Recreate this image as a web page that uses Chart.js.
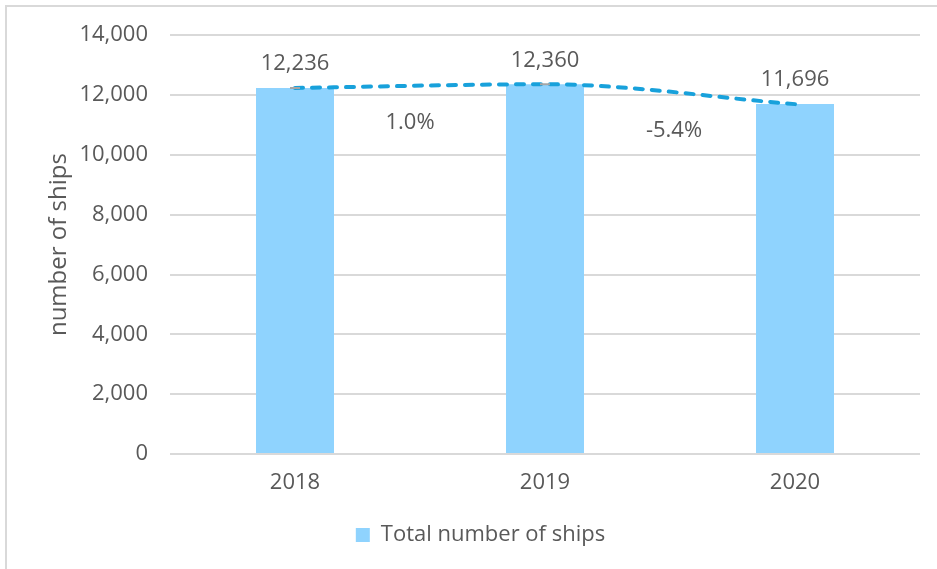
<!DOCTYPE html>
<html>
<head>
<meta charset="utf-8">
<script src="https://cdn.jsdelivr.net/npm/chart.js@4/dist/chart.umd.min.js"></script>
<style>
  html, body { margin: 0; padding: 0; background: #ffffff; }
  #wrap { position: relative; width: 937px; height: 569px; overflow: hidden; }
  #frame { position: absolute; left: 5px; top: 5px; right: -4px; bottom: -4px;
           border-left: 2px solid #d9d9d9; border-top: 2px solid #d9d9d9; }
  #c { position: absolute; left: 0; top: 0; }
</style>
</head>
<body>
<div id="wrap">
  <div id="frame"></div>
  <canvas id="c" width="937" height="569"></canvas>
</div>
<script>
// Fleet size by year
const years = ['2018', '2019', '2020'];
const ships = [12236, 12360, 11696];
// Year-on-year change between consecutive years
const changeLabels = ['1.0%', '-5.4%'];
// Value axis ticks
const yTicks = [0, 2000, 4000, 6000, 8000, 10000, 12000, 14000];

const FONT = "'Open Sans', 'DejaVu Sans', sans-serif";
const TEXT = '#595959';
const fmt = v => v.toLocaleString('en-US');

// Value labels above each year and change labels between years
const labelPlugin = {
  id: 'valueLabels',
  afterDatasetsDraw(chart) {
    const { ctx } = chart;
    const xs = chart.scales.x, ys = chart.scales.y;
    ctx.save();
    ctx.fillStyle = TEXT;
    ctx.font = '22px ' + FONT;
    ctx.textAlign = 'center';
    ctx.textBaseline = 'middle';
    ships.forEach((v, i) => {
      ctx.fillText(fmt(v), xs.getPixelForValue(i), ys.getPixelForValue(v) - 24);
    });
    changeLabels.forEach((t, i) => {
      const x = (xs.getPixelForValue(i) + xs.getPixelForValue(i + 1)) / 2 + (i === 0 ? -10 : 4);
      const y = ys.getPixelForValue((ships[i] + ships[i + 1]) / 2) + 37;
      ctx.fillText(t, x, y);
    });
    ctx.restore();
  }
};

new Chart(document.getElementById('c'), {
  data: {
    labels: years,
    datasets: [
      {
        type: 'line',
        label: 'trend',
        data: ships,
        order: 0,
        borderColor: '#18a1db',
        borderWidth: 4,
        borderDash: [8, 9],
        borderCapStyle: 'round',
        cubicInterpolationMode: 'monotone',
        fill: false,
        pointStyle: 'line',
        pointRadius: [5, 5, 0],
        pointBorderColor: '#a6a6a6',
        pointBorderWidth: 2,
        pointHoverRadius: 0
      },
      {
        type: 'bar',
        label: 'Total number of ships',
        data: ships,
        order: 1,
        backgroundColor: '#8fd3fe',
        borderWidth: 0,
        categoryPercentage: 1,
        barPercentage: 0.312
      }
    ]
  },
  options: {
    responsive: false,
    animation: false,
    events: [],
    layout: { padding: { left: 41, right: 17, top: 34, bottom: 13 } },
    plugins: {
      tooltip: { enabled: false },
      legend: {
        position: 'bottom',
        labels: {
          filter: item => item.text !== 'trend',
          boxWidth: 14,
          boxHeight: 14,
          padding: 10,
          color: TEXT,
          font: { family: FONT, size: 22 }
        }
      }
    },
    scales: {
      x: {
        grid: { display: false, drawTicks: false },
        border: { display: false },
        ticks: { color: TEXT, padding: 16, font: { family: FONT, size: 22 } },
        afterFit(scale) { scale.height = 60; }
      },
      y: {
        min: 0,
        max: 14000,
        afterBuildTicks(scale) { scale.ticks = yTicks.map(v => ({ value: v })); },
        grid: { color: '#d9d9d9', lineWidth: 2, drawTicks: false },
        border: { display: false },
        ticks: {
          color: TEXT,
          padding: 22,
          font: { family: FONT, size: 22 },
          callback: v => fmt(v)
        },
        title: {
          display: true,
          text: 'number of ships',
          color: TEXT,
          font: { family: FONT, size: 24 }
        },
        afterFit(scale) { scale.width = 129; }
      }
    }
  },
  plugins: [labelPlugin]
});
</script>
</body>
</html>
